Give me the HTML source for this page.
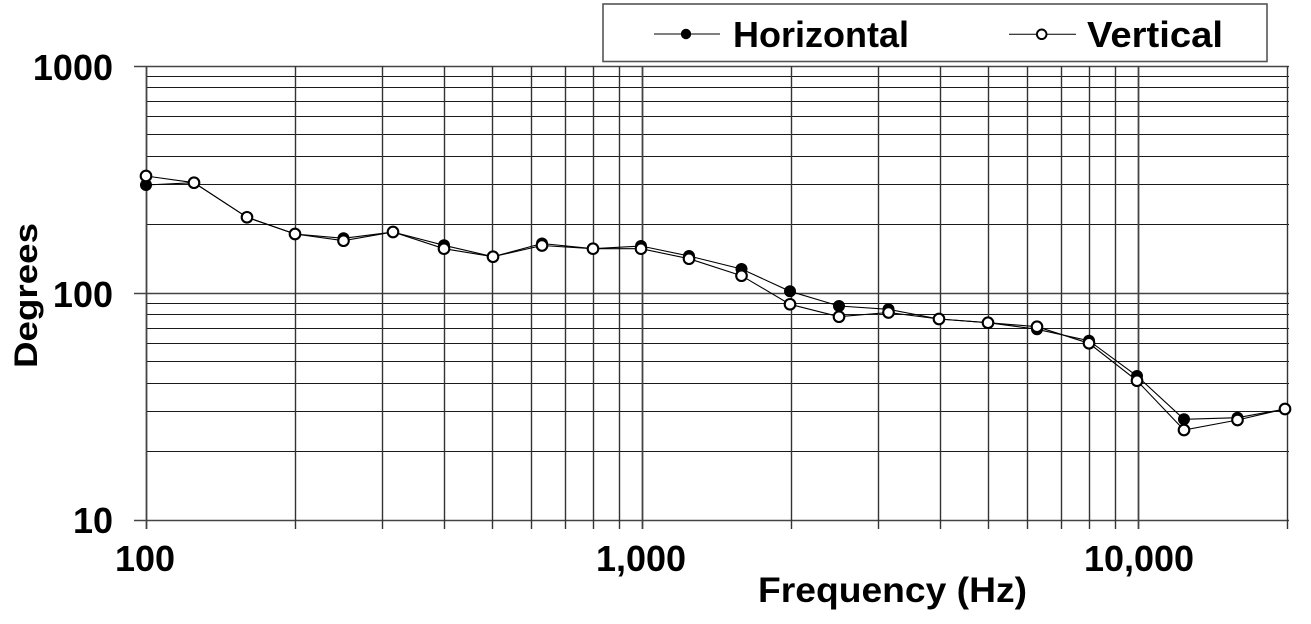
<!DOCTYPE html>
<html>
<head>
<meta charset="utf-8">
<style>
  html,body{margin:0;padding:0;background:#fff;}
  svg{display:block;}
  text{font-family:"Liberation Sans",Arial,sans-serif;font-weight:bold;fill:#000;}
</style>
</head>
<body>
<svg width="1311" height="624" viewBox="0 0 1311 624" xmlns="http://www.w3.org/2000/svg">
<rect x="0" y="0" width="1311" height="624" fill="#fff"/>
<g id="grid"></g>
<g id="series"></g>
<!-- legend -->
<rect x="603" y="4" width="664" height="57.5" fill="#fff" stroke="#555" stroke-width="1.6"/>
<line x1="654" y1="34" x2="720" y2="34" stroke="#000" stroke-width="1"/>
<circle cx="686" cy="34" r="5.2" fill="#000"/>
<text x="733" y="47" font-size="36" textLength="176" lengthAdjust="spacingAndGlyphs">Horizontal</text>
<line x1="1009" y1="34.3" x2="1076" y2="34.3" stroke="#000" stroke-width="1"/>
<circle cx="1041.7" cy="34.3" r="4.8" fill="#fff" stroke="#000" stroke-width="1.9"/>
<text x="1087" y="47" font-size="36" textLength="136" lengthAdjust="spacingAndGlyphs">Vertical</text>
<!-- y tick labels -->
<text x="113" y="80" font-size="36" text-anchor="end">1000</text>
<text x="113" y="307" font-size="36" text-anchor="end">100</text>
<text x="113" y="533" font-size="36" text-anchor="end">10</text>
<!-- x tick labels -->
<text x="145" y="571" font-size="36" text-anchor="middle">100</text>
<text x="641" y="571" font-size="36" text-anchor="middle">1,000</text>
<text x="1139" y="571" font-size="36" text-anchor="middle">10,000</text>
<!-- axis titles -->
<text x="758" y="602" font-size="35" textLength="269" lengthAdjust="spacingAndGlyphs">Frequency (Hz)</text>
<text transform="translate(37,368) rotate(-90)" x="0" y="0" font-size="32" textLength="145" lengthAdjust="spacingAndGlyphs">Degrees</text>
<script>
(function(){
  var NS="http://www.w3.org/2000/svg";
  var g=document.getElementById("grid");
  function ln(x1,y1,x2,y2,c,w){var l=document.createElementNS(NS,"line");
    l.setAttribute("x1",x1);l.setAttribute("y1",y1);l.setAttribute("x2",x2);l.setAttribute("y2",y2);
    l.setAttribute("stroke",c);l.setAttribute("stroke-width",w);g.appendChild(l);}
  function X(f){return 146+496*Math.log10(f/100);}
  function Y(v){return 66+227*(3-Math.log10(v));}
  // horizontal gridlines
  var vals=[];
  for(var d=10;d<1000;d*=10){for(var k=1;k<10;k++){vals.push(d*k);}}
  vals.push(1000);
  vals.forEach(function(v){
    var major=(v===10||v===100||v===1000);
    var y=Math.floor(Y(v))+0.5;
    ln(major?134:146,y,1289,y,major?"#444":"#1a1a1a",major?1.6:1.1);
  });
  // vertical gridlines
  var fs=[];
  for(var d2=100;d2<20000;d2*=10){for(var k2=1;k2<10;k2++){var f=d2*k2; if(f<=20000) fs.push(f);}}
  fs.push(20000);
  fs=fs.filter(function(f,i){return fs.indexOf(f)===i;});
  fs.forEach(function(f){
    var x=Math.floor(X(f))+0.5;
    var major=(f===100||f===1000||f===10000);
    ln(x,66,x,529,major?"#444":"#333",major?1.8:1.4);
  });
  // series
  var s=document.getElementById("series");
  var H=[[146,185],[194,182.7],[247,217.3],[295,234],[343.5,238.3],[393,232],[444,245.3],[493,256.7],[542,243.5],[593,248.7],[641,246],[689,256],[741.5,269],[790,291.3],[839,306],[888.5,309.3],[939,319],[988,322.7],[1037,329.3],[1089,340.7],[1137,376],[1184,419.3],[1237.5,417.7],[1285,409]];
  var V=[[146,176],[194,182.7],[247,217.3],[295,234],[343.5,240.7],[393,232],[444,248.7],[493,256.7],[542,245.5],[593,248.7],[641,248.7],[689,258.7],[741.5,275.7],[790,304.3],[839,316.7],[888.5,312.5],[939,319],[988,322.7],[1037,326.7],[1089,343.3],[1137,380.7],[1184,430],[1237.5,420],[1285,409]];
  function poly(pts){var p=document.createElementNS(NS,"polyline");
    p.setAttribute("points",pts.map(function(a){return a[0]+","+a[1];}).join(" "));
    p.setAttribute("fill","none");p.setAttribute("stroke","#000");p.setAttribute("stroke-width","1.1");s.appendChild(p);}
  function circ(x,y,filled){var c=document.createElementNS(NS,"circle");
    c.setAttribute("cx",x);c.setAttribute("cy",y);
    if(filled){c.setAttribute("r",6);c.setAttribute("fill","#000");}
    else{c.setAttribute("r",5.3);c.setAttribute("fill","#fff");c.setAttribute("stroke","#000");c.setAttribute("stroke-width","2.1");}
    s.appendChild(c);}
  poly(H);
  H.forEach(function(a){circ(a[0],a[1],true);});
  poly(V);
  V.forEach(function(a){circ(a[0],a[1],false);});
})();
</script>
</svg>
</body>
</html>
